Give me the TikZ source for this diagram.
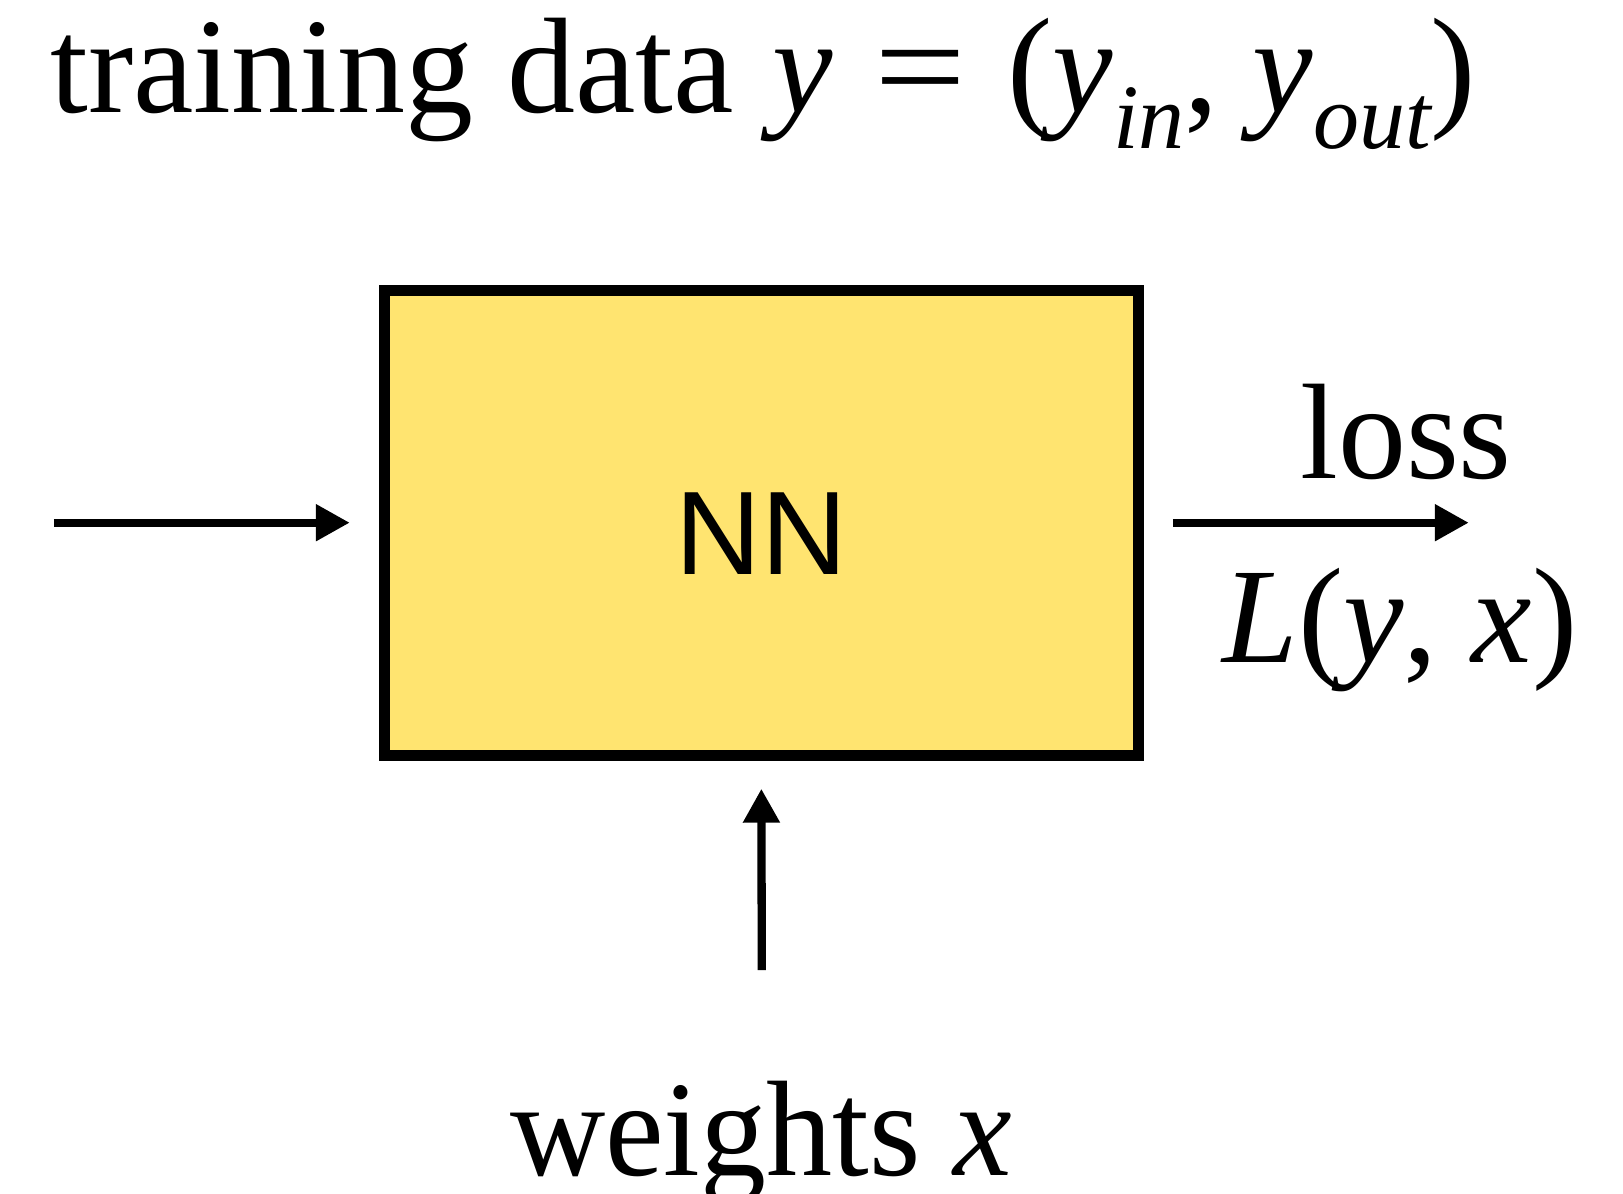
\documentclass[tikz,border=0pt]{standalone}
\usepackage{fontspec}
\setmainfont{Liberation Serif}
\newfontfamily\nnfont{Liberation Sans}
\usetikzlibrary{arrows.meta}
\definecolor{nnyellow}{RGB}{255,228,112}

\newcommand{\lowsub}[1]{\raisebox{-18pt}{\fontsize{46}{46}\selectfont\itshape #1}}

\begin{document}
\begin{tikzpicture}[
    x=0.5pt, y=-0.5pt,
    font=\fontsize{68}{80}\selectfont,
    >={Triangle[length=17pt, width=17.5pt]},
    box_nn/.style={draw=black, fill=nnyellow, line width=5.5pt, minimum width=377pt, minimum height=232.5pt, inner sep=0pt, font=\nnfont\fontsize{59.4}{70}\selectfont, text height=51.5pt},
    txt_label/.style={inner sep=0pt, anchor=base},
    arrow/.style={->, line width=4.15pt, draw=black}
]
\useasboundingbox (0,0) rectangle (1623,1194);

% Title
\node[txt_label, anchor=base west] (title) at (50,112) {training data\hspace{2.5pt} \textit{y} \hspace{3.5pt}\scalebox{1.2}[1]{=}\hspace{3.5pt} (\textit{y}\lowsub{in}, \textit{y}\lowsub{out})};

% Network
\node[box_nn] (nn) at (761.3,522.7) {NN};

% Labels
\node[txt_label] (loss) at (1406,478) {loss};
\node[txt_label] (lossfn) at (1400,662) {\textit{L}(\textit{y}, \textit{x})};
\node[txt_label] (weights) at (761,1175) {\scalebox{0.97}[1]{weights \textit{x}}};

% Free ends
\coordinate (in_start) at (53.8,522.7);
\coordinate (out_end) at (1468.8,522.7);
\coordinate (w_start) at (761.8,970);

% Arrows
\draw[arrow, shorten >=14.5pt] (in_start) -- (nn.west);
\draw[arrow, shorten <=14.5pt] (nn.east) -- (out_end);
\draw[arrow, shorten >=14pt] (w_start) -- (nn.south);

\end{tikzpicture}
\end{document}
